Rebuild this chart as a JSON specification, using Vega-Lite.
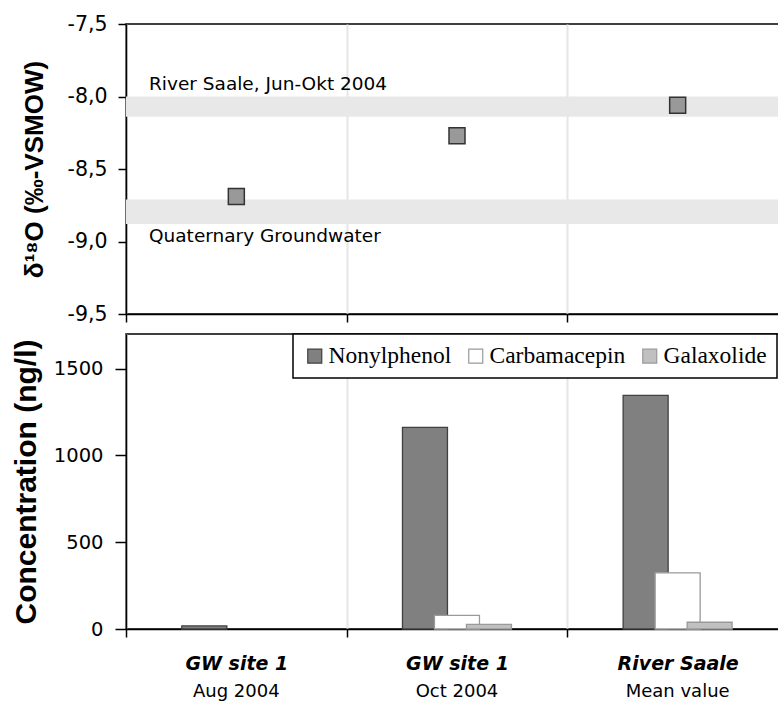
{
  "$schema": "https://vega.github.io/schema/vega-lite/v6.json",
  "padding": {"left": 10, "top": 13, "right": 0, "bottom": 0},
  "background": "white",
  "spacing": 20,
  "bounds": "flush",
  "resolve": {"legend": {"fill": "independent", "stroke": "independent"}},
  "config": {
    "font": "DejaVu Sans",
    "view": {"stroke": "#000", "strokeWidth": 1.5},
    "axis": {"domainColor": "#000", "tickColor": "#000", "labelColor": "#000", "titleColor": "#000", "domainWidth": 1.5, "tickWidth": 1.5},
    "legend": {"orient": "none", "legendX": 167, "legendY": 0, "direction": "horizontal", "strokeColor": "#000", "strokeWidth": 1.5, "fillColor": "#fff", "padding": 10, "labelFont": "Liberation Serif", "labelFontSize": 23.5, "labelColor": "#000", "symbolType": "square", "symbolSize": 196, "symbolStrokeWidth": 1.2, "columnPadding": 12, "labelOffset": 2}
  },
  "datasets": {
    "iso": [
      {"sample": "GW site 1\nAug 2004", "d18O": -8.69},
      {"sample": "GW site 1\nOct 2004", "d18O": -8.27},
      {"sample": "River Saale\nMean value", "d18O": -8.06}
    ],
    "bands": [
      {"band": "River Saale, Jun-Okt 2004", "top": -8.0, "bottom": -8.14},
      {"band": "Quaternary Groundwater", "top": -8.71, "bottom": -8.88}
    ],
    "conc": [
      {"sample": "GW site 1\nAug 2004", "compound": "Nonylphenol", "value": 18},
      {"sample": "GW site 1\nAug 2004", "compound": "Carbamacepin", "value": 0},
      {"sample": "GW site 1\nAug 2004", "compound": "Galaxolide", "value": 0},
      {"sample": "GW site 1\nOct 2004", "compound": "Nonylphenol", "value": 1162},
      {"sample": "GW site 1\nOct 2004", "compound": "Carbamacepin", "value": 79},
      {"sample": "GW site 1\nOct 2004", "compound": "Galaxolide", "value": 27},
      {"sample": "River Saale\nMean value", "compound": "Nonylphenol", "value": 1346},
      {"sample": "River Saale\nMean value", "compound": "Carbamacepin", "value": 324},
      {"sample": "River Saale\nMean value", "compound": "Galaxolide", "value": 39}
    ]
  },
  "vconcat": [
    {
      "width": 662,
      "height": 290,
      "layer": [
        {
          "data": {"name": "bands"},
          "mark": {"type": "rect", "fill": "#e8e8e8"},
          "encoding": {
            "y": {"field": "top", "type": "quantitative", "scale": {"domain": [-9.5, -7.5], "nice": false, "zero": false}},
            "y2": {"field": "bottom"}
          }
        },
        {
          "data": {"name": "bands"},
          "transform": [{"filter": "datum.band == 'River Saale, Jun-Okt 2004'"}],
          "mark": {"type": "text", "align": "left", "baseline": "alphabetic", "dx": 23, "dy": -7, "fontSize": 18.5, "font": "DejaVu Sans", "color": "#000"},
          "encoding": {
            "x": {"datum": "GW site 1\nAug 2004", "type": "nominal", "bandPosition": 0},
            "y": {"field": "top", "type": "quantitative", "scale": {"domain": [-9.5, -7.5], "nice": false, "zero": false}},
            "text": {"field": "band"}
          }
        },
        {
          "data": {"name": "bands"},
          "transform": [{"filter": "datum.band == 'Quaternary Groundwater'"}],
          "mark": {"type": "text", "align": "left", "baseline": "alphabetic", "dx": 23, "dy": 18, "fontSize": 18.5, "font": "DejaVu Sans", "color": "#000"},
          "encoding": {
            "x": {"datum": "GW site 1\nAug 2004", "type": "nominal", "bandPosition": 0},
            "y": {"field": "bottom", "type": "quantitative", "scale": {"domain": [-9.5, -7.5], "nice": false, "zero": false}},
            "text": {"field": "band"}
          }
        },
        {
          "data": {"name": "iso"},
          "mark": {"type": "point", "shape": "square", "filled": true, "size": 256, "fill": "#999999", "stroke": "#333333", "strokeWidth": 1.5, "opacity": 1},
          "encoding": {
            "x": {
              "field": "sample", "type": "nominal", "sort": null,
              "scale": {"domain": ["GW site 1\nAug 2004", "GW site 1\nOct 2004", "River Saale\nMean value"], "paddingInner": 0, "paddingOuter": 0},
              "axis": {"title": null, "labels": false, "tickBand": "extent", "tickSize": 8, "grid": true, "gridColor": "#e6e6e6", "gridWidth": 2}
            },
            "y": {
              "field": "d18O", "type": "quantitative",
              "scale": {"domain": [-9.5, -7.5], "nice": false, "zero": false},
              "axis": {
                "title": "δ¹⁸O (‰-VSMOW)", "titleFont": "Liberation Sans", "titleFontSize": 26, "titleFontWeight": "bold", "titlePadding": 20,
                "values": [-9.5, -9, -8.5, -8, -7.5],
                "labelExpr": "replace(replace(format(datum.value, '.1f'), '\u2212', '-'), '.', ',')",
                "labelFontSize": 20.5, "labelPadding": 11, "tickSize": 8, "grid": false
              }
            }
          }
        }
      ]
    },
    {
      "width": 662,
      "height": 295,
      "layer": [
        {
          "data": {"name": "conc"},
          "transform": [{"filter": "datum.value > 0"}],
          "mark": {"type": "bar", "width": 45, "strokeWidth": 1.3},
          "encoding": {
            "x": {
              "field": "sample", "type": "nominal", "sort": null,
              "scale": {"domain": ["GW site 1\nAug 2004", "GW site 1\nOct 2004", "River Saale\nMean value"], "paddingInner": 0, "paddingOuter": 0},
              "axis": {"title": null, "orient": "bottom", "labelExpr": "split(datum.label, '\\n')[0]", "labelAngle": 0, "labelFontSize": 19, "labelFontWeight": "bold", "labelFontStyle": "italic", "labelPadding": 17, "tickBand": "extent", "tickSize": 8, "grid": true, "gridColor": "#e6e6e6", "gridWidth": 2}
            },
            "xOffset": {
              "field": "compound", "type": "nominal", "sort": null,
              "scale": {"domain": ["Nonylphenol", "Carbamacepin", "Galaxolide"], "range": [62.3, 158.3], "paddingInner": 0, "paddingOuter": 0}
            },
            "y": {
              "field": "value", "type": "quantitative",
              "scale": {"domain": [0, 1700], "nice": false},
              "axis": {"title": "Concentration (ng/l)", "titleFont": "Liberation Sans", "titleFontSize": 30, "titleFontWeight": "bold", "titlePadding": 12, "values": [0, 500, 1000, 1500], "format": "d", "labelFontSize": 19.5, "labelPadding": 12, "tickSize": 11, "grid": false}
            },
            "fill": {
              "field": "compound", "type": "nominal",
              "scale": {"domain": ["Nonylphenol", "Carbamacepin", "Galaxolide"], "range": ["#808080", "#ffffff", "#c0c0c0"]},
              "legend": {"title": null}
            },
            "stroke": {
              "field": "compound", "type": "nominal",
              "scale": {"domain": ["Nonylphenol", "Carbamacepin", "Galaxolide"], "range": ["#404040", "#9a9a9a", "#9a9a9a"]},
              "legend": {"title": null}
            }
          }
        },
        {
          "data": {"name": "conc"},
          "mark": {"type": "tick", "opacity": 0},
          "encoding": {
            "x": {
              "field": "sample", "type": "nominal", "sort": null,
              "scale": {"domain": ["GW site 1\nAug 2004", "GW site 1\nOct 2004", "River Saale\nMean value"], "paddingInner": 0, "paddingOuter": 0},
              "axis": {"title": null, "orient": "bottom", "labelExpr": "split(datum.label, '\\n')[1]", "labelAngle": 0, "labelFontSize": 18, "labelPadding": 53.5, "ticks": false, "domain": false, "grid": false}
            },
            "y": {"field": "value", "type": "quantitative", "scale": {"domain": [0, 1700], "nice": false}}
          }
        }
      ],
      "resolve": {"axis": {"x": "independent"}}
    }
  ]
}
